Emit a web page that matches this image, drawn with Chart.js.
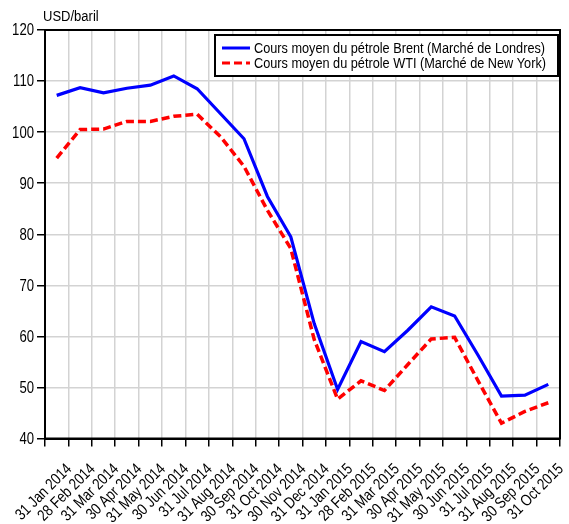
<!DOCTYPE html>
<html>
<head>
<meta charset="utf-8">
<script src="https://cdn.jsdelivr.net/npm/chart.js@4.4.1/dist/chart.umd.min.js"></script>
<style>
    html, body { margin: 0; padding: 0; background: #fff; }
    #wrap { width: 569px; height: 524px; }
</style>
</head>
<body>
<div id="wrap"><canvas id="oil-chart"></canvas></div>
<script>
const months = [
    '31 Jan 2014', '28 Feb 2014', '31 Mar 2014', '30 Apr 2014', '31 May 2014', '30 Jun 2014',
    '31 Jul 2014', '31 Aug 2014', '30 Sep 2014', '31 Oct 2014', '30 Nov 2014', '31 Dec 2014',
    '31 Jan 2015', '28 Feb 2015', '31 Mar 2015', '30 Apr 2015', '31 May 2015', '30 Jun 2015',
    '31 Jul 2015', '31 Aug 2015', '30 Sep 2015', '31 Oct 2015'
];

const brent = [
    107.2, 108.7, 107.7, 108.6, 109.2, 111.0, 108.5, 103.6, 98.7, 87.4, 79.5, 62.5,
    49.6, 59.0, 57.0, 61.2, 65.8, 64.0, 56.3, 48.3, 48.5, 50.6
];

const wti = [
    94.9, 100.5, 100.6, 102.1, 102.1, 103.1, 103.5, 99.1, 93.3, 84.7, 77.2, 59.4,
    47.7, 51.3, 49.4, 54.5, 59.5, 59.8, 51.3, 43.0, 45.3, 47.0
];

const yTicks = [40, 50, 60, 70, 80, 90, 100, 110, 120];

const seriesNames = [
    'Cours moyen du pétrole Brent (Marché de Londres)',
    'Cours moyen du pétrole WTI (Marché de New York)'
];

const FONT = "'Liberation Sans', Arial, sans-serif";

// no narrow face installed, so squeeze the normal one horizontally
function narrowText(ctx, text, x, y, size, squeeze, align, baseline, angle) {
    ctx.save();
    ctx.font = size + 'px ' + FONT;
    ctx.fillStyle = '#000';
    ctx.textAlign = align;
    ctx.textBaseline = baseline;
    ctx.translate(x, y);
    if (angle) ctx.rotate(angle);
    ctx.scale(squeeze, 1);
    ctx.fillText(text, 0, 0);
    ctx.restore();
}

// tick labels, frame round the plot, unit label and the boxed legend
const framePlugin = {
    id: 'frame',
    afterDraw(chart) {
        const ctx = chart.ctx;
        const a = chart.chartArea;
        const xs = chart.scales.x;
        const ys = chart.scales.y;
        ctx.save();
        ctx.strokeStyle = '#000';
        ctx.lineWidth = 2;
        ctx.strokeRect(a.left, a.top, a.right - a.left, a.bottom - a.top);

        yTicks.forEach(v => {
            narrowText(ctx, String(v), 34, ys.getPixelForValue(v) + 1, 16, 0.82, 'right', 'middle');
        });
        months.forEach((m, i) => {
            narrowText(ctx, m, xs.getPixelForValue(i) + 7, 461, 16, 0.82, 'right', 'top', -Math.PI / 4);
        });
        narrowText(ctx, 'USD/baril', 43, 21, 14, 0.93, 'left', 'alphabetic');

        // legend
        const lx = 215, ly = 35, lw = 343, lh = 41;
        ctx.fillStyle = '#fff';
        ctx.fillRect(lx, ly, lw, lh);
        ctx.strokeStyle = '#000';
        ctx.lineWidth = 2;
        ctx.strokeRect(lx, ly, lw, lh);
        chart.data.datasets.forEach((ds, i) => {
            const y = 48 + i * 15;
            ctx.beginPath();
            ctx.strokeStyle = ds.borderColor;
            ctx.lineWidth = 3;
            ctx.setLineDash(ds.borderDash || []);
            ctx.moveTo(222, y);
            ctx.lineTo(250, y);
            ctx.stroke();
            ctx.setLineDash([]);
            narrowText(ctx, ds.label, 254, y + 1, 15.5, 0.82, 'left', 'middle');
        });
        ctx.restore();
    }
};

const ctx = document.getElementById('oil-chart').getContext('2d');
new Chart(ctx, {
    type: 'line',
    data: {
        labels: months,
        datasets: [
            {
                label: seriesNames[0],
                data: brent,
                borderColor: '#0000ff',
                borderWidth: 3.2,
                pointRadius: 0,
                tension: 0
            },
            {
                label: seriesNames[1],
                data: wti,
                borderColor: '#ff0000',
                borderWidth: 3.5,
                borderDash: [8, 4],
                pointRadius: 0,
                tension: 0
            }
        ]
    },
    options: {
        responsive: true,
        maintainAspectRatio: false,
        animation: false,
        layout: { padding: { top: 30, right: 9, left: 0, bottom: 0 } },
        plugins: {
            legend: { display: false },
            tooltip: { enabled: false }
        },
        scales: {
            x: {
                type: 'category',
                offset: true,
                grid: {
                    offset: true,
                    color: '#d3d3d3',
                    lineWidth: 1.5,
                    tickColor: '#000',
                    tickLength: 8,
                    tickWidth: 1.5
                },
                border: { color: '#000', width: 2 },
                ticks: { display: false, autoSkip: false },
                afterFit(scale) { scale.height = 85.5; }
            },
            y: {
                min: 40,
                max: 120,
                afterBuildTicks(scale) { scale.ticks = yTicks.map(v => ({ value: v })); },
                grid: {
                    color: '#d3d3d3',
                    lineWidth: 1.5,
                    tickColor: '#000',
                    tickLength: 8,
                    tickWidth: 1.5
                },
                border: { color: '#000', width: 2 },
                ticks: { display: false },
                afterFit(scale) { scale.width = 45; }
            }
        }
    },
    plugins: [framePlugin]
});
</script>
</body>
</html>
